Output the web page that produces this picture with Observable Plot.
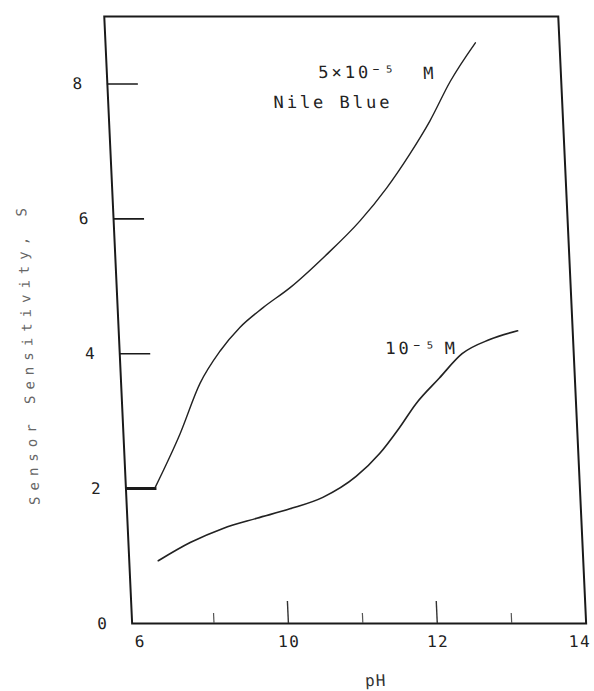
<!DOCTYPE html>
<html><head><meta charset="utf-8">
<script src="https://cdn.jsdelivr.net/npm/d3@7"></script>
<script src="https://cdn.jsdelivr.net/npm/@observablehq/plot@0.6"></script>
<style>
html,body{margin:0;padding:0;background:#fff;overflow:hidden;width:594px;height:691px;}
#chart svg{display:block;transform:skewX(2.63deg);transform-origin:0 0;}
</style></head><body><div id="chart"></div>
<script>
// 5×10⁻⁵ M Nile Blue
const pH_high = [8.29, 8.66, 8.96, 9.25, 9.53, 9.85, 10.23, 10.72, 11.21, 11.59, 11.92, 12.21, 12.51, 12.87];
const S_high  = [2.01, 2.81, 3.56, 4.04, 4.39, 4.68, 4.98, 5.45, 5.97, 6.46, 6.96, 7.45, 8.04, 8.61];
// 10⁻⁵ M
const pH_low = [8.29, 8.73, 9.18, 9.64, 10.09, 10.54, 11.00, 11.33, 11.61, 11.85, 12.18, 12.50, 12.88, 13.26];
const S_low  = [0.93, 1.20, 1.41, 1.56, 1.70, 1.87, 2.18, 2.52, 2.90, 3.26, 3.64, 4.00, 4.21, 4.34];

const yTickMarks = [2, 4, 6, 8];
const yLabelValues = [0, 2, 4, 6, 8];
const yTickLabels = ["0", "2", "4", "6", "8"];
const xMajorTicks = [10, 12];
const xMinorTicks = [9, 11, 13];
const xLabelValues = [8, 10, 12, 14];
const xTickLabels = ["6", "10", "12", "14"];
const xTitle = "pH";
const yTitle = "Sensor Sensitivity, S";
// annotations: text and data-space anchor
const startText = ["5×10⁻⁵", "Nile Blue", "10⁻⁵"];
const startPH   = [10.74, 10.12, 11.47];
const startS    = [8.17, 7.73, 4.07];
const unitText  = ["M", "M"];
const unitPH    = [12.22, 12.34];
const unitS     = [8.15, 4.07];

const high = pH_high.map((x, i) => ({x, y: S_high[i]}));
const low = pH_low.map((x, i) => ({x, y: S_low[i]}));
const starts = startText.map((t, i) => ({t, x: startPH[i], y: startS[i]}));
const units = unitText.map((t, i) => ({t, x: unitPH[i], y: unitS[i]}));
const xl = xLabelValues.map((v, i) => ({v, t: xTickLabels[i]}));

const W = 594, H = 691, mL = 103, mR = 37, mT = 16, mB = 68;
const fw = W - mL - mR, fh = H - mT - mB;
const ink = "#1a1a1a";

const chart = Plot.plot({
  width: W, height: H,
  marginLeft: mL, marginRight: mR, marginTop: mT, marginBottom: mB,
  x: {domain: [7.9, 14], axis: null},
  y: {domain: [0, 9], axis: null},
  style: {fontFamily: "'DejaVu Sans Mono', monospace", background: "white", color: ink},
  marks: [
    Plot.frame({stroke: ink, strokeWidth: 2}),
    Plot.tickY(yTickMarks, {y: d => d, insetRight: fw - 31, stroke: ink, strokeWidth: d => d === 2 ? 3 : 1.6}),
    Plot.tickX(xMajorTicks, {x: d => d, insetTop: fh - 22, stroke: "#333", strokeWidth: 1.4}),
    Plot.tickX(xMinorTicks, {x: d => d, insetTop: fh - 10, stroke: "#555", strokeWidth: 1.2}),
    Plot.text(yLabelValues, {y: d => d, text: (d, i) => yTickLabels[i], frameAnchor: "left", textAnchor: "middle", dx: -30, fontSize: 16, fill: "#222"}),
    Plot.text(xl.slice(0, 3), {x: "v", text: "t", frameAnchor: "bottom", dy: 18, lineAnchor: "middle", fontSize: 16, fill: "#222"}),
    Plot.text(xl.slice(3), {x: "v", text: "t", frameAnchor: "bottom", dx: -7, dy: 18, lineAnchor: "middle", fontSize: 16, fill: "#222"}),
    Plot.text([xTitle], {text: d => d, frameAnchor: "bottom", dx: 14, dy: 57, lineAnchor: "middle", fontSize: 16, fill: "#333"}),
    Plot.text([yTitle], {text: d => d, frameAnchor: "left", textAnchor: "middle", dx: -91.5, dy: 33.5, rotate: -90, fontSize: 14, fill: "#666"}),
    Plot.line(high, {x: "x", y: "y", curve: "monotone-x", stroke: "#222", strokeWidth: 1.4}),
    Plot.line(low, {x: "x", y: "y", curve: "monotone-x", stroke: "#222", strokeWidth: 1.6}),
    Plot.text(starts, {x: "x", y: "y", text: "t", textAnchor: "start", fontSize: 17, fill: "#222"}),
    Plot.text(units, {x: "x", y: "y", text: "t", textAnchor: "middle", fontSize: 17, fill: "#222"})
  ]
});
document.getElementById("chart").appendChild(chart);
// typewriter-like letter spacing, set per text mark group (in mark order)
const groups = d3.select(chart).selectAll('g[aria-label="text"]').nodes();
const spacing = ["0px", "1.5px", "1.5px", "1px", "6px", "3px", "0px"];
groups.forEach((g, i) => d3.select(g).selectAll("text").style("letter-spacing", spacing[i] || "0px"));
</script>
</body></html>
